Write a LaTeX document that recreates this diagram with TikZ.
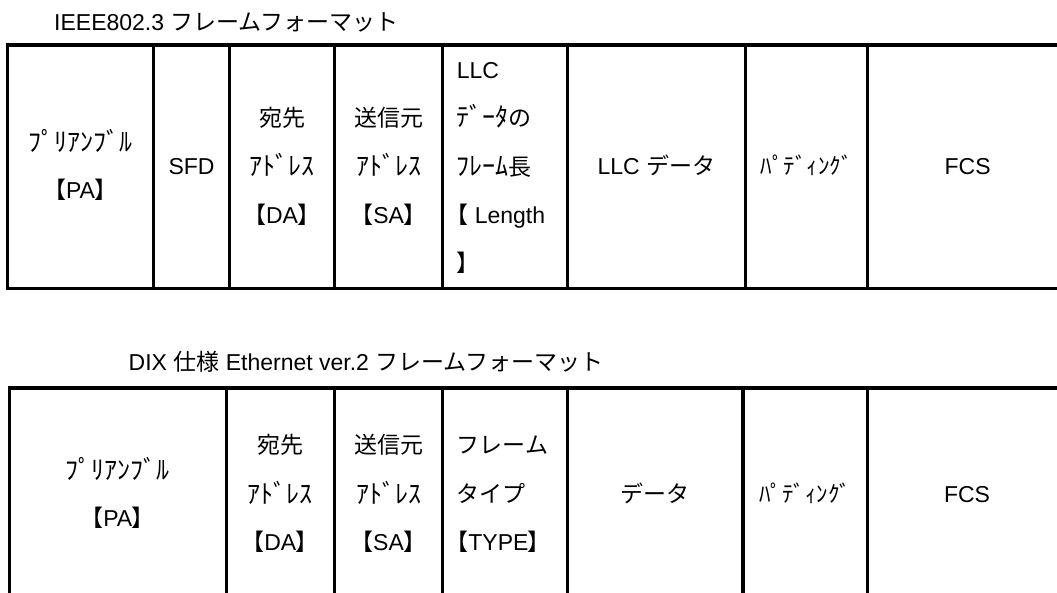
\documentclass[tikz,border=0pt]{standalone}
\usepackage{fontspec}
\setmainfont{Liberation Sans}
\newfontfamily\jp{Noto Sans CJK JP}
\newfontfamily\jpp[RawFeature=+palt]{Noto Sans CJK JP}
\newcommand{\J}[1]{{\jp #1}}
\newcommand{\HW}[1]{{\fontsize{26}{26}\selectfont\jp #1}}
\newcommand{\LB}{{\jpp 【}}
\newcommand{\RB}{{\jpp 】}}
\tikzset{
  frame/.style={draw=black, line width=3.2pt},
  txt/.style={inner sep=0pt, text height=16.5pt, text depth=0pt, font=\fontsize{23}{23}\selectfont},
  ltxt/.style={txt, anchor=west},
  hw/.style={txt, text height=18pt},
  lhw/.style={ltxt, text height=17.5pt},
}
\begin{document}
\begin{tikzpicture}[x=1pt,y=-1pt]
\useasboundingbox (0,0) rectangle (1057,592);
\clip (0,0) rectangle (1057,592);

% ---------- IEEE802.3 ----------
\node[ltxt] (title1) at (54,22) {IEEE802.3 \J{フレームフォーマット}};
\draw[frame] (7.3,45) rectangle (1068,288.3);
\foreach \x in {153.7,229.3,334.7,442.7,567.3,745.3,867.7}
  \draw[frame] (\x,45) -- (\x,288.3);

\node[hw] (pa1) at (80.5,142.5) {\HW{ﾌﾟﾘｱﾝﾌﾞﾙ}};
\node[txt] (pa2) at (80.5,190.5) {\LB PA\RB};
\node[txt] (sfd) at (191.5,166.5) {SFD};
\node[txt] (da1) at (282,118) {\J{宛先}};
\node[hw] (da2) at (282,166.5) {\HW{ｱﾄﾞﾚｽ}};
\node[txt] (da3) at (282,215) {\LB DA\RB};
\node[txt] (sa1) at (388.7,118) {\J{送信元}};
\node[hw] (sa2) at (388.7,166.5) {\HW{ｱﾄﾞﾚｽ}};
\node[txt] (sa3) at (388.7,215) {\LB SA\RB};
\node[ltxt] (ln1) at (456.7,70) {LLC};
\node[lhw] (ln2) at (456.7,118) {\HW{ﾃﾞｰﾀ}\J{の}};
\node[lhw] (ln3) at (456.7,166.5) {\HW{ﾌﾚｰﾑ}\J{長}};
\node[ltxt] (ln4) at (456.7,215) {\LB{} Length};
\node[ltxt] (ln5) at (456.7,263) {\RB};
\node[txt] (llcd) at (656.3,166.5) {LLC \J{データ}};
\node[txt] (pad1) at (806.5,166.5) {\J{ﾊﾟﾃﾞｨﾝｸﾞ}};
\node[txt] (fcs1) at (967.6,166.5) {FCS};

% ---------- DIX Ethernet ver.2 ----------
\node[ltxt] (title2) at (128.5,362.7) {DIX \J{仕様} Ethernet ver.2 \J{フレームフォーマット}};
\draw[frame] (9.3,388) rectangle (1068,600);
\foreach \x in {226.3,334.3,442.7,567.3,743,867.7}
  \draw[frame] (\x,388) -- (\x,600);

\node[hw] (bpa1) at (117.8,470) {\HW{ﾌﾟﾘｱﾝﾌﾞﾙ}};
\node[txt] (bpa2) at (117.8,518.5) {\LB PA\RB};
\node[txt] (bda1) at (280.3,445.5) {\J{宛先}};
\node[hw] (bda2) at (280.3,494) {\HW{ｱﾄﾞﾚｽ}};
\node[txt] (bda3) at (280.3,542.5) {\LB DA\RB};
\node[txt] (bsa1) at (388.5,445.5) {\J{送信元}};
\node[hw] (bsa2) at (388.5,494) {\HW{ｱﾄﾞﾚｽ}};
\node[txt] (bsa3) at (388.5,542.5) {\LB SA\RB};
\node[ltxt] (ty1) at (456.7,445.5) {\J{フレーム}};
\node[ltxt] (ty2) at (456.7,494) {\J{タイプ}};
\node[ltxt] (ty3) at (456.7,542.5) {\LB TYPE\RB};
\node[txt] (data) at (655,494) {\J{データ}};
\node[txt] (pad2) at (805.3,494) {\J{ﾊﾟﾃﾞｨﾝｸﾞ}};
\node[txt] (fcs2) at (967,494) {FCS};
\end{tikzpicture}
\end{document}
